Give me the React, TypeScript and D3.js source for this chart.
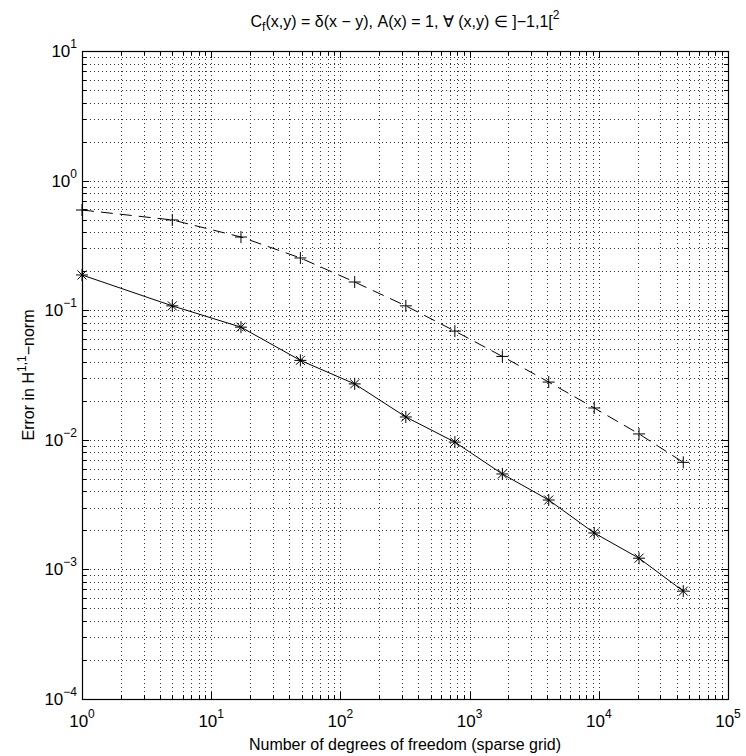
import * as d3 from 'd3';
import React from 'react';

// degrees of freedom of the sparse grid, one per level
const dofs = [1, 5, 17, 49, 129, 321, 769, 1793, 4097, 9217, 20481, 45057];
// solid line with * markers
const errStar = [0.187, 0.108, 0.074, 0.041, 0.027, 0.015, 0.0096, 0.00545, 0.00343, 0.00191, 0.00122, 0.00068];
// dashed line with + markers
const errPlus = [0.593, 0.497, 0.367, 0.253, 0.165, 0.108, 0.069, 0.044, 0.0279, 0.0176, 0.0111, 0.0067];

const xExps = [0, 1, 2, 3, 4, 5];
const yExps = [1, 0, -1, -2, -3, -4];

const W = 746;
const H = 756;
const left = 82, right = 728, top = 51, bottom = 699;
const font = "'Liberation Sans', Arial, Helvetica, sans-serif";

function App() {
    const x = d3.scaleLog().domain([1, 1e5]).range([left, right]);
    const y = d3.scaleLog().domain([1e-4, 10]).range([bottom, top]);

    // all ticks 1..9 per decade
    const minorX: number[] = [];
    for (let e = 0; e < 5; e++) for (let m = 2; m <= 9; m++) minorX.push(m * Math.pow(10, e));
    const minorY: number[] = [];
    for (let e = -4; e < 1; e++) for (let m = 2; m <= 9; m++) minorY.push(m * Math.pow(10, e));
    const majorX = xExps.map(e => Math.pow(10, e));
    const majorY = yExps.map(e => Math.pow(10, e));

    const line = d3.line<number>()
        .x((d, i) => x(dofs[i]))
        .y(d => y(d));

    const fmt = (e: number) => (e < 0 ? '\u2212' + Math.abs(e) : String(e));

    return (
        <svg width={W} height={H} style={{ position: 'absolute', left: 0, top: 0, background: '#fff' }}
            fontFamily={font}>
            <rect x={0} y={0} width={W} height={H} fill="#fff" />

            {/* dotted grid */}
            <g stroke="#333" strokeWidth={1} strokeDasharray="1,3" fill="none">
                {majorX.concat(minorX).map((v, i) => (
                    <line key={'gx' + i} x1={Math.round(x(v)) + 0.5} x2={Math.round(x(v)) + 0.5} y1={top} y2={bottom} />
                ))}
                {majorY.concat(minorY).map((v, i) => (
                    <line key={'gy' + i} y1={Math.round(y(v)) + 0.5} y2={Math.round(y(v)) + 0.5} x1={left} x2={right} />
                ))}
            </g>

            {/* ticks on all four sides */}
            <g stroke="#000" strokeWidth={1}>
                {majorX.map((v, i) => {
                    const px = Math.round(x(v)) + 0.5;
                    return <g key={'tx' + i}>
                        <line x1={px} x2={px} y1={bottom} y2={bottom - 7} />
                        <line x1={px} x2={px} y1={top} y2={top + 7} />
                    </g>;
                })}
                {minorX.map((v, i) => {
                    const px = Math.round(x(v)) + 0.5;
                    return <g key={'mx' + i}>
                        <line x1={px} x2={px} y1={bottom} y2={bottom - 4} />
                        <line x1={px} x2={px} y1={top} y2={top + 4} />
                    </g>;
                })}
                {majorY.map((v, i) => {
                    const py = Math.round(y(v)) + 0.5;
                    return <g key={'ty' + i}>
                        <line y1={py} y2={py} x1={left} x2={left + 7} />
                        <line y1={py} y2={py} x1={right} x2={right - 7} />
                    </g>;
                })}
                {minorY.map((v, i) => {
                    const py = Math.round(y(v)) + 0.5;
                    return <g key={'my' + i}>
                        <line y1={py} y2={py} x1={left} x2={left + 4} />
                        <line y1={py} y2={py} x1={right} x2={right - 4} />
                    </g>;
                })}
            </g>

            <rect x={left + 0.5} y={top + 0.5} width={right - left} height={bottom - top}
                fill="none" stroke="#000" strokeWidth={1.2} />

            {/* series */}
            <path d={line(errPlus) || ''} fill="none" stroke="#000" strokeWidth={1} strokeDasharray="12,7" />
            <path d={line(errStar) || ''} fill="none" stroke="#000" strokeWidth={1} />

            <g stroke="#000" strokeWidth={1}>
                {errPlus.map((v, i) => {
                    const cx = x(dofs[i]), cy = y(v);
                    return <g key={'p' + i}>
                        <line x1={cx - 6} x2={cx + 6} y1={cy} y2={cy} />
                        <line x1={cx} x2={cx} y1={cy - 6} y2={cy + 6} />
                    </g>;
                })}
                {errStar.map((v, i) => {
                    const cx = x(dofs[i]), cy = y(v);
                    return <g key={'s' + i}>
                        <line x1={cx - 6} x2={cx + 6} y1={cy} y2={cy} />
                        <line x1={cx} x2={cx} y1={cy - 6} y2={cy + 6} />
                        <line x1={cx - 4.5} x2={cx + 4.5} y1={cy - 4.5} y2={cy + 4.5} />
                        <line x1={cx - 4.5} x2={cx + 4.5} y1={cy + 4.5} y2={cy - 4.5} />
                    </g>;
                })}
            </g>

            {/* tick labels */}
            <g fontSize={17} fill="#000">
                {xExps.map(e => (
                    <text key={'lx' + e} x={x(Math.pow(10, e))} y={727} textAnchor="middle">
                        10<tspan fontSize={12} dy={-9}>{fmt(e)}</tspan>
                    </text>
                ))}
                {yExps.map(e => (
                    <text key={'ly' + e} x={left - 5} y={y(Math.pow(10, e)) + 6} textAnchor="end">
                        10<tspan fontSize={12} dy={-9}>{fmt(e)}</tspan>
                    </text>
                ))}
            </g>

            <text x={(left + right) / 2} y={27} textAnchor="middle" fontSize={16}>
                C<tspan fontSize={12} dy={4}>f</tspan><tspan dy={-4}>(x,y) = δ(x − y), A(x) = 1, ∀ (x,y) ∈ ]−1,1[</tspan><tspan fontSize={12} dy={-8}>2</tspan>
            </text>

            <text x={(left + right) / 2} y={750} textAnchor="middle" fontSize={16}>
                Number of degrees of freedom (sparse grid)
            </text>

            <text transform={`translate(34, ${(top + bottom) / 2}) rotate(-90)`} textAnchor="middle" fontSize={16}>
                Error in H<tspan fontSize={12} dy={-8}>1,1</tspan><tspan dy={8}>−norm</tspan>
            </text>
        </svg>
    );
}

export default App;
